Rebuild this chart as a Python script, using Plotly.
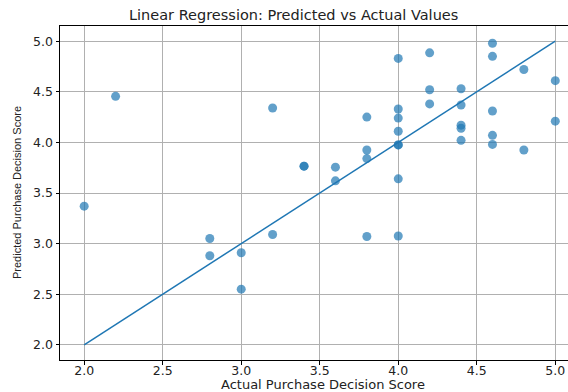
import plotly.graph_objects as go

actual = [2.0, 2.2, 2.8, 2.8, 3.0, 3.0, 3.2, 3.2, 3.4, 3.4, 3.6, 3.6,
          3.8, 3.8, 3.8, 3.8, 4.0, 4.0, 4.0, 4.0, 4.0, 4.0, 4.0, 4.0,
          4.2, 4.2, 4.2, 4.4, 4.4, 4.4, 4.4, 4.4, 4.6, 4.6, 4.6, 4.6, 4.6,
          4.8, 4.8, 5.0, 5.0]
predicted = [3.37, 4.455, 3.05, 2.88, 2.91, 2.55, 3.09, 4.34, 3.765, 3.765, 3.755, 3.62,
             4.25, 3.925, 3.84, 3.07, 4.83, 4.33, 4.24, 4.11, 3.975, 3.975, 3.64, 3.075,
             4.885, 4.52, 4.38, 4.53, 4.37, 4.17, 4.14, 4.02, 4.98, 4.85, 4.31, 4.07, 3.98,
             4.72, 3.925, 4.61, 4.21]
ideal = [2.0, 5.0]

title_text = "Linear Regression: Predicted vs Actual Values"
x_label = "Actual Purchase Decision Score"
y_label = "Predicted Purchase Decision Score"
x_ticks = [2.0, 2.5, 3.0, 3.5, 4.0, 4.5, 5.0]
y_ticks = [2.0, 2.5, 3.0, 3.5, 4.0, 4.5, 5.0]

blue = "#1f77b4"
font = "DejaVu Sans, Liberation Sans, sans-serif"

fig = go.Figure()
fig.add_trace(go.Scatter(
    x=actual, y=predicted, mode="markers",
    marker=dict(color=blue, opacity=0.7, size=9, line=dict(width=0)),
    showlegend=False, hoverinfo="x+y"))
fig.add_trace(go.Scatter(
    x=ideal, y=ideal, mode="lines",
    line=dict(color=blue, width=1.5), showlegend=False))

axis_common = dict(
    showgrid=True, gridcolor="#b0b0b0", gridwidth=1,
    showline=True, linecolor="black", linewidth=1,
    ticks="outside", ticklen=3.5, tickwidth=1, tickcolor="black",
    zeroline=False, tickfont=dict(family=font, size=12.5, color="#222"),
    tickformat=".1f", automargin=False,
)

fig.update_xaxes(range=[1.846, 5.081], tickvals=x_ticks, mirror=True,
                 ticklabelstandoff=-5, **axis_common)
fig.update_yaxes(range=[1.85, 5.15], tickvals=y_ticks, **axis_common)

fig.add_annotation(text=title_text, xref="paper", yref="paper",
                   x=0.46, y=1.0, yshift=11, xanchor="center", yanchor="middle",
                   showarrow=False, font=dict(family=font, size=14.5, color="#222"))
fig.add_annotation(text=x_label, xref="paper", yref="paper",
                   x=0.5175, y=0, yshift=-24, xanchor="center", yanchor="middle",
                   showarrow=False, font=dict(family=font, size=13, color="#222"))
fig.add_annotation(text=y_label, xref="paper", yref="paper",
                   x=0, xshift=-43, y=0.5, xanchor="center", yanchor="middle",
                   textangle=-90, showarrow=False,
                   font=dict(family="Liberation Sans Narrow, Liberation Sans, sans-serif", size=11, color="#222"))

fig.update_layout(
    width=568, height=392,
    margin=dict(l=60, r=0, t=26, b=32),
    paper_bgcolor="white", plot_bgcolor="white",
)

fig.write_html("out.html", config={"displayModeBar": False},
               post_script="document.body.style.margin='0';document.body.style.overflow='hidden';")
